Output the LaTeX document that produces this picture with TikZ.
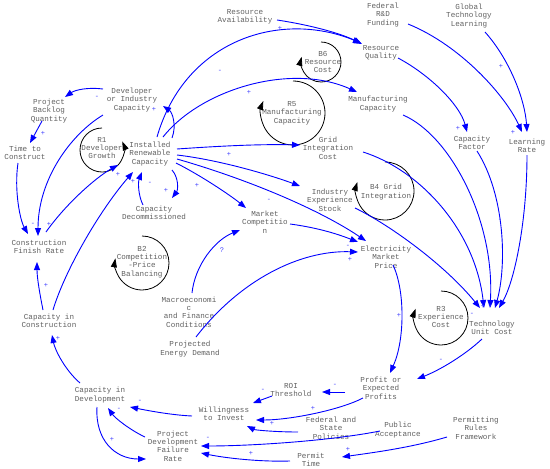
\documentclass[tikz,border=0pt]{standalone}
\usepackage{fontspec}
\setmainfont{Liberation Mono}
\usetikzlibrary{arrows.meta,calc}
\begin{document}
\begin{tikzpicture}[x=1pt,y=1pt,
  lbl/.style={text=black!62, font=\fontsize{7.6}{8.4}\selectfont, align=center, inner sep=0pt},
  conn/.style={draw=blue, line width=0.9pt, -{Triangle[length=8pt,width=6pt]}},
  pol/.style={text=blue!75, font=\fontsize{7}{8}\selectfont, inner sep=0pt},
  loopa/.style={draw=black, line width=0.8pt, -{Triangle[length=9pt,width=6pt]}}]
\fill[white] (0,0) rectangle (550,-469);
\useasboundingbox (0,0) rectangle (550,-469);
% nodes
\node[lbl] (ra) at (245,-17) {Resource\\Availability};
\node[lbl] (frd) at (383,-15) {Federal\\R\&D\\Funding};
\node[lbl] (gtl) at (469,-16) {Global\\Technology\\Learning};
\node[lbl] (rq) at (381,-53) {Resource\\Quality};
\node[lbl] (mc) at (378,-104) {Manufacturing\\Capacity};
\node[lbl] (cf) at (472,-143) {Capacity\\Factor};
\node[lbl] (lr) at (527,-146) {Learning\\Rate};
\node[lbl] (dic) at (132,-100) {Developer\\or Industry\\Capacity};
\node[lbl] (pbq) at (49,-111) {Project\\Backlog\\Quantity};
\node[lbl] (ttc) at (25,-153) {Time to\\Construct};
\node[lbl] (r1) at (102,-148) {R1\\Developer\\Growth};
\node[lbl] (irc) at (150,-154) {Installed\\Renewable\\Capacity};
\node[lbl] (cd) at (154,-213) {Capacity\\Decommissioned};
\node[lbl] (cfr) at (39,-247) {Construction\\Finish Rate};
\node[lbl] (b2) at (142,-262) {B2\\Competition\\-Price\\Balancing};
\node[lbl] (cic) at (49,-321) {Capacity in\\Construction};
\node[lbl] (cid) at (100,-395) {Capacity in\\Development};
\node[lbl] (pdfr) at (173,-446) {Project\\Development\\Failure\\Rate};
\node[lbl] (wti) at (224,-414) {Willingness\\to Invest};
\node[lbl] (roi) at (291,-390) {ROI\\Threshold};
\node[lbl] (fsp) at (331,-428) {Federal and\\State\\Policies};
\node[lbl] (pa) at (398,-430) {Public\\Acceptance};
\node[lbl] (pt) at (311,-460) {Permit\\Time};
\node[lbl] (prf) at (476,-428) {Permitting\\Rules\\Framework};
\node[lbl] (pep) at (381,-388) {Profit or\\Expected\\Profits};
\node[lbl] (tuc) at (492,-328) {Technology\\Unit Cost};
\node[lbl] (r3) at (441,-317) {R3\\Experience\\Cost};
\node[lbl] (emp) at (386,-257) {Electricity\\Market\\Price};
\node[lbl] (mcomp) at (265,-222) {Market\\Competitio\\n};
\node[lbl] (ies) at (330,-200) {Industry\\Experience\\Stock};
\node[lbl] (b4) at (386,-192) {B4 Grid\\Integration};
\node[lbl] (b6) at (323,-62) {B6\\Resource\\Cost};
\node[lbl] (r5) at (292,-113) {R5\\Manufacturing\\Capacity};
\node[lbl] (gic) at (328,-148) {Grid\\Integration\\Cost};
\node[lbl] (mac) at (189,-312) {Macroeconomi\\c\\and Finance\\Conditions};
\node[lbl] (ped) at (190,-349) {Projected\\Energy Demand};
% loops
\draw[loopa] ([shift={(0,20)}]r1.center) arc[start angle=90, end angle=383, radius=22];
\draw[loopa] ([shift={(1,32)}]r5.center) arc[start angle=90, end angle=-202, radius=32];
\draw[loopa] ([shift={(-2,20)}]b6.center) arc[start angle=90, end angle=-195, radius=20];
\draw[loopa] ([shift={(-1,30)}]b4.center) arc[start angle=90, end angle=-198, radius=29];
\draw[loopa] ([shift={(0,26)}]b2.center) arc[start angle=90, end angle=-190, radius=27];
\draw[loopa] ([shift={(0,26)}]r3.center) arc[start angle=90, end angle=-200, radius=27];
% connectors
\draw[conn] ([shift={(32,-3)}]ra.center) .. controls (310,-25) and (340,-33) .. ([shift={(-19,9)}]rq.center);
\draw[conn] ([shift={(7,17)}]irc.center) .. controls (185,-40) and (280,-10) .. ([shift={(-20,10)}]rq.center);
\draw[conn] ([shift={(13,17)}]irc.center) .. controls (200,-90) and (290,-62) .. ([shift={(-21,12)}]mc.center);
\draw[conn] ([shift={(27,5)}]irc.center) .. controls (220,-146) and (260,-144) .. ([shift={(-28,3)}]gic.center);
\draw[conn] ([shift={(27,-1)}]irc.center) .. controls (220,-160) and (270,-175) .. ([shift={(-30,14)}]ies.center);
\draw[conn] ([shift={(27,-5)}]irc.center) .. controls (250,-180) and (320,-210) .. ([shift={(-20,16)}]emp.center);
\draw[conn] ([shift={(26,-9)}]irc.center) .. controls (200,-175) and (230,-195) .. ([shift={(-19,14)}]mcomp.center);
\draw[conn] ([shift={(22,-16)}]irc.center) .. controls (179,-178) and (178,-190) .. ([shift={(18,15)}]cd.center);
\draw[conn] ([shift={(-11,8)}]cd.center) .. controls (138,-195) and (138,-182) .. ([shift={(-8,-18)}]irc.center);
\draw[conn] ([shift={(22,16)}]irc.center) .. controls (177,-125) and (172,-112) .. ([shift={(31,-6)}]dic.center);
\draw[conn] ([shift={(-29,11)}]dic.center) .. controls (88,-87) and (75,-90) .. ([shift={(16,14)}]pbq.center);
\draw[conn] ([shift={(-7,-10)}]pbq.center) -- ([shift={(5,10)}]ttc.center);
\draw[conn] ([shift={(-7,-10)}]ttc.center) .. controls (14,-190) and (20,-220) .. ([shift={(-11,13)}]cfr.center);
\draw[conn] ([shift={(-29,-15)}]dic.center) .. controls (70,-135) and (38,-180) .. ([shift={(-1,11)}]cfr.center);
\draw[conn] ([shift={(7,15)}]cfr.center) .. controls (65,-205) and (95,-178) .. ([shift={(-32,-11)}]irc.center);
\draw[conn] ([shift={(4,11)}]cic.center) .. controls (65,-270) and (100,-210) .. ([shift={(-17,-18)}]irc.center);
\draw[conn] ([shift={(-6,11)}]cic.center) .. controls (40,-295) and (37,-278) .. ([shift={(-2,-15)}]cfr.center);
\draw[conn] ([shift={(-20,12)}]cid.center) .. controls (65,-370) and (55,-350) .. ([shift={(3,-14)}]cic.center);
\draw[conn] ([shift={(-3,-12)}]cid.center) .. controls (95,-440) and (115,-459) .. ([shift={(-27,-13)}]pdfr.center);
\draw[conn] ([shift={(-28,9)}]pdfr.center) .. controls (130,-430) and (115,-418) .. ([shift={(8,-13)}]cid.center);
\draw[conn] ([shift={(-32,-2)}]wti.center) .. controls (170,-415) and (145,-410) .. ([shift={(30,-12)}]cid.center);
\draw[conn] ([shift={(-19,-6)}]roi.center) -- ([shift={(29,11)}]wti.center);
\draw[conn] ([shift={(-36,-4)}]pep.center) -- ([shift={(31,-2)}]roi.center);
\draw[conn] ([shift={(-18,-10)}]pep.center) .. controls (340,-410) and (290,-420) .. ([shift={(32,-6)}]wti.center);
\draw[conn] ([shift={(-33,-4)}]fsp.center) .. controls (275,-432) and (255,-430) .. ([shift={(23,-12)}]wti.center);
\draw[conn] ([shift={(-18,-1)}]pa.center) .. controls (330,-441) and (250,-446) .. ([shift={(28,0)}]pdfr.center);
\draw[conn] ([shift={(-21,-1)}]pt.center) .. controls (260,-462) and (225,-458) .. ([shift={(28,-7)}]pdfr.center);
\draw[conn] ([shift={(-29,-9)}]prf.center) .. controls (410,-448) and (370,-453) .. ([shift={(31,3)}]pt.center);
\draw[conn] ([shift={(-10,-11)}]tuc.center) .. controls (465,-355) and (440,-370) .. ([shift={(36,9)}]pep.center);
\draw[conn] ([shift={(7,-8)}]emp.center) .. controls (405,-290) and (405,-340) .. ([shift={(9,15)}]pep.center);
\draw[conn] ([shift={(3,19)}]mac.center) .. controls (195,-265) and (215,-240) .. ([shift={(-25,-8)}]mcomp.center);
\draw[conn] ([shift={(6,12)}]ped.center) .. controls (240,-280) and (300,-250) .. ([shift={(-28,5)}]emp.center);
\draw[conn] ([shift={(25,-2)}]mcomp.center) .. controls (320,-228) and (340,-235) .. ([shift={(-28,15)}]emp.center);
\draw[conn] ([shift={(25,-8)}]ies.center) .. controls (390,-225) and (445,-265) .. ([shift={(-12,20)}]tuc.center);
\draw[conn] ([shift={(35,-4)}]gic.center) .. controls (420,-170) and (475,-230) .. ([shift={(-8,20)}]tuc.center);
\draw[conn] ([shift={(25,-11)}]mc.center) .. controls (450,-135) and (495,-220) .. ([shift={(-2,20)}]tuc.center);
\draw[conn] ([shift={(5,-8)}]cf.center) .. controls (505,-195) and (507,-265) .. ([shift={(3,20)}]tuc.center);
\draw[conn] ([shift={(0,-9)}]lr.center) .. controls (527,-220) and (515,-280) .. ([shift={(7,20)}]tuc.center);
\draw[conn] ([shift={(17,-5)}]rq.center) .. controls (430,-75) and (460,-105) .. ([shift={(-5,11)}]cf.center);
\draw[conn] ([shift={(25,-9)}]frd.center) .. controls (460,-45) and (505,-95) .. ([shift={(-5,14)}]lr.center);
\draw[conn] ([shift={(16,-16)}]gtl.center) .. controls (510,-60) and (525,-100) .. ([shift={(0,14)}]lr.center);
% polarity labels
\node[pol] (p1) at (280,-28) {+};
\node[pol] (p2) at (220,-71) {-};
\node[pol] (p3) at (249,-92) {+};
\node[pol] (p4) at (229,-154) {+};
\node[pol] (p5) at (197,-185) {+};
\node[pol] (p6) at (269,-200) {-};
\node[pol] (p7) at (166,-190) {+};
\node[pol] (p8) at (150,-183) {-};
\node[pol] (p9) at (154,-109) {+};
\node[pol] (p10) at (97,-97) {-};
\node[pol] (p11) at (43,-133) {+};
\node[pol] (p12) at (33,-224) {-};
\node[pol] (p13) at (49,-224) {+};
\node[pol] (p14) at (118,-174) {+};
\node[pol] (p15) at (133,-181) {+};
\node[pol] (p16) at (46,-285) {+};
\node[pol] (p17) at (58,-338) {+};
\node[pol] (p18) at (112,-439) {+};
\node[pol] (p19) at (119,-409) {-};
\node[pol] (p20) at (140,-401) {-};
\node[pol] (p21) at (263,-390) {-};
\node[pol] (p22) at (335,-385) {-};
\node[pol] (p23) at (313,-408) {+};
\node[pol] (p24) at (272,-423) {+};
\node[pol] (p25) at (208,-438) {-};
\node[pol] (p26) at (251,-453) {+};
\node[pol] (p27) at (348,-449) {+};
\node[pol] (p28) at (441,-360) {-};
\node[pol] (p29) at (399,-315) {+};
\node[pol] (p30) at (222,-250) {?};
\node[pol] (p31) at (350,-259) {+};
\node[pol] (p32) at (348,-246) {-};
\node[pol] (p33) at (458,-128) {+};
\node[pol] (p34) at (513,-132) {+};
\node[pol] (p35) at (501,-66) {+};
\node[pol] (p36) at (500,-220) {-};
\node[pol] (p37) at (472,-314) {-};
\node[pol] (p38) at (483,-306) {+};
\node[pol] (p39) at (490,-306) {-};
\end{tikzpicture}
\end{document}
